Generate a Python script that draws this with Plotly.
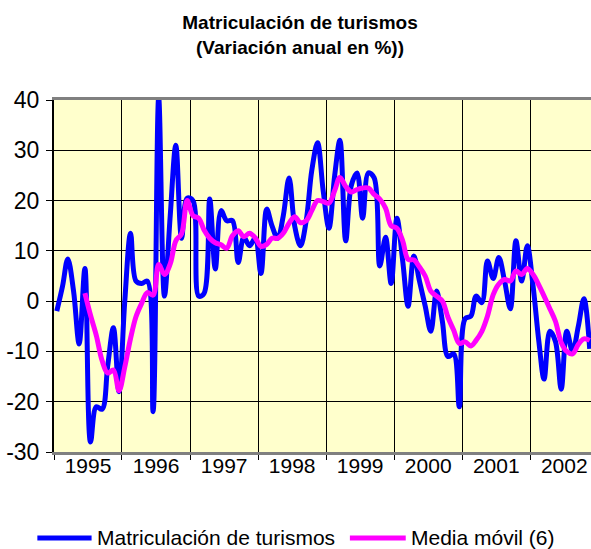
"""
Matriculación de turismos - variación anual (%) y media móvil de 6 meses
"""

import pandas as pd
import plotly.graph_objects as go

# Monthly values, Jan 1995 onwards
matriculacion = [
    -2, 3, 8.4, 2, -8.5, 6.5, -28, -21, -21.5, -13, -5.3, -18,          # 1995
    0, 13.5, 4, 3.5, 4, -22, 40.5, 1, 17, 31, 12.5, 20.5,               # 1996
    20, 1, 1.5, 20.3, 6.4, 18, 16, 16, 7.7, 12.7, 11, 12.5,             # 1997
    5.5, 18.3, 15, 12.5, 17, 24.5, 15, 11, 16, 26, 31.5, 22,            # 1998
    14.5, 25, 32, 12, 23, 25.5, 16.5, 25.5, 24.5, 7, 12.7, 3.5,         # 1999
    16.5, 8, -1, 9, 4, -1, -6, 2, -4, -11, -10.5, -21,                  # 2000
    -3.5, -3, 1, -0.3, 8, 4.5, 8.7, 4, -1.5, 12, 4, 11,                 # 2001
    3, -8, -15.5, -6, -8, -17.5, -6, -10, -5, 0.5, -9.5,                # 2002
]

# 6-month moving average, starts in Jun 1995
media_movil = [
    1.6, -2.8, -6.8, -11.8, -14.3, -13.7, -17.8,                        # 1995
    -13.1, -7.4, -3.1, -0.4, 1.7, 1.2, 7.3, 5.3, 7.4, 12, 13.4, 20,     # 1996
    17, 16.5, 14.2, 12.5, 11.6, 11.2, 10.5, 13, 14, 12.8, 13.5, 12.6,   # 1997
    10.9, 11.3, 12.5, 12.5, 13.5, 15.5, 16.8, 15.6, 16, 18, 20, 19.8,   # 1998
    19.5, 22, 24.6, 22.8, 21.7, 22.2, 22.5, 22.5, 21.2, 20.3, 18.5, 15, # 1999
    14.5, 12, 8.3, 8.2, 6.8, 5, 2, 1, 0, -3.2, -5.8, -8.4,              # 2000
    -8.1, -8.9, -7.8, -6, -3, 1.3, 3.4, 4.3, 4, 6, 5.3, 6.5,            # 2001
    5.3, 3.2, 1, -1.5, -4, -8.2, -10, -10.5, -8.6, -7.5, -7.8,          # 2002
]

# y ticks, written with a plain hyphen like the original
y_ticks = [40, 30, 20, 10, 0, -10, -20, -30]
y_labels = ["40", "30", "20", "10", "0", "-10", "-20", "-30"]

meses = pd.date_range("1995-01-01", periods=len(matriculacion), freq="MS") + pd.Timedelta(days=15)
meses_mm = meses[len(matriculacion) - len(media_movil):]

FONT = "Arial, Liberation Sans, sans-serif"

fig = go.Figure()

fig.add_trace(go.Scatter(
    x=meses, y=matriculacion,
    name="Matriculación de turismos",
    mode="lines",
    line=dict(color="#0000FF", width=5, shape="spline", smoothing=1.0),
))

fig.add_trace(go.Scatter(
    x=meses_mm, y=media_movil,
    name="Media móvil (6)",
    mode="lines",
    line=dict(color="#FF00FF", width=5, shape="spline", smoothing=1.0),
))

# Legend drawn by hand (long line samples like the original)
legend_y = -0.244
fig.add_shape(type="line", xref="paper", yref="paper",
              x0=-0.031, x1=0.070, y0=legend_y, y1=legend_y,
              line=dict(color="#0000FF", width=5))
fig.add_shape(type="line", xref="paper", yref="paper",
              x0=0.551, x1=0.655, y0=legend_y, y1=legend_y,
              line=dict(color="#FF00FF", width=5))
fig.add_annotation(xref="paper", yref="paper", x=0.077, y=legend_y,
                   xanchor="left", yanchor="middle", showarrow=False,
                   text="Matriculación de turismos", font=dict(size=21, color="black"))
fig.add_annotation(xref="paper", yref="paper", x=0.662, y=legend_y,
                   xanchor="left", yanchor="middle", showarrow=False,
                   text="Media móvil (6)", font=dict(size=21, color="black"))

fig.update_xaxes(
    type="date",
    range=["1995-01-01", "2002-11-23"],
    tick0="1995-01-01",
    dtick="M12",
    tickformat="%Y",
    ticklabelmode="period",
    ticks="outside",
    ticklen=5,
    tickcolor="black",
    ticklabelstandoff=-12,
    showgrid=True,
    gridcolor="black",
    gridwidth=1,
    showline=True,
    linecolor="#808080",
    linewidth=3,
    mirror=True,
    automargin=False,
    tickfont=dict(size=21, color="black"),
)

fig.update_yaxes(
    range=[-30, 40],
    tickvals=y_ticks,
    ticktext=y_labels,
    ticks="outside",
    ticklen=6,
    tickcolor="black",
    ticklabelstandoff=2,
    showgrid=True,
    gridcolor="black",
    gridwidth=1,
    zeroline=False,
    showline=True,
    linecolor="black",
    linewidth=2,
    automargin=False,
    tickfont=dict(size=23, color="black"),
)

fig.update_layout(
    width=591,
    height=549,
    margin=dict(l=54, r=0, t=100, b=97, autoexpand=False),
    title=dict(
        text="<b>Matriculación de turismos<br>(Variación anual en %))</b>",
        x=300 / 591, xanchor="center", xref="container",
        y=1 - 29 / 549, yanchor="middle", yref="container",
        font=dict(size=19, color="black", family=FONT),
    ),
    showlegend=False,
    plot_bgcolor="#FFFFCC",
    paper_bgcolor="white",
    font=dict(family=FONT, color="black"),
)

# page body has a default 8px margin; drop it so the figure sits at 0,0
fig.write_html(
    "out.html",
    config={"displayModeBar": False},
    post_script="document.body.style.margin='0';",
)
